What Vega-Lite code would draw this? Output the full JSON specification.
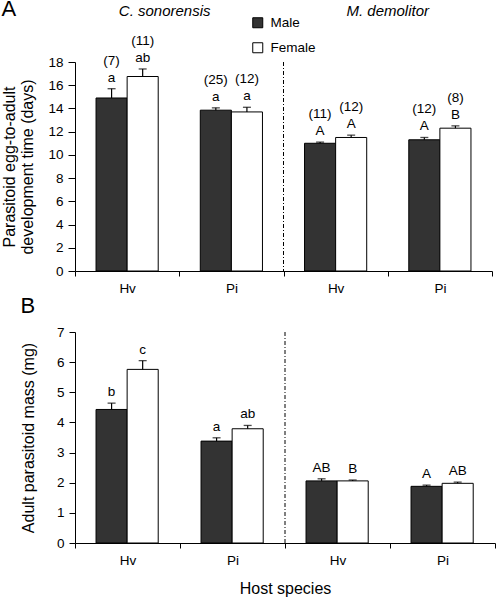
{
  "$schema": "https://vega.github.io/schema/vega-lite/v6.json",
  "padding": {"left": 1, "top": -3, "right": 0, "bottom": 0},
  "config": {
    "view": {"stroke": null},
    "font": "Liberation Sans",
    "axis": {"grid": false, "domainColor": "black", "tickColor": "black", "labelColor": "black", "titleColor": "black", "labelFont": "Liberation Sans", "titleFont": "Liberation Sans", "labelFontSize": 13.5, "titleFontSize": 16, "titleFontWeight": "normal", "labelOverlap": false},
    "title": {"font": "Liberation Sans", "fontWeight": "normal", "fontSize": 22, "color": "black"},
    "legend": {"labelFont": "Liberation Sans"}
  },
  "datasets": {
    "dev": [
      {"grp": "Cs Hv", "sex": "Male", "mean": 14.9, "err": 15.7, "n": "(7)", "letter": "a"},
      {"grp": "Cs Hv", "sex": "Female", "mean": 16.75, "err": 17.4, "n": "(11)", "letter": "ab"},
      {"grp": "Cs Pi", "sex": "Male", "mean": 13.85, "err": 14.05, "n": "(25)", "letter": "a"},
      {"grp": "Cs Pi", "sex": "Female", "mean": 13.7, "err": 14.1, "n": "(12)", "letter": "a"},
      {"grp": "Md Hv", "sex": "Male", "mean": 11.0, "err": 11.1, "n": "(11)", "letter": "A"},
      {"grp": "Md Hv", "sex": "Female", "mean": 11.5, "err": 11.7, "n": "(12)", "letter": "A"},
      {"grp": "Md Pi", "sex": "Male", "mean": 11.3, "err": 11.5, "n": "(12)", "letter": "A"},
      {"grp": "Md Pi", "sex": "Female", "mean": 12.3, "err": 12.5, "n": "(8)", "letter": "B"}
    ],
    "mass": [
      {"grp": "Cs Hv", "sex": "Male", "mean": 4.43, "err": 4.64, "letter": "b"},
      {"grp": "Cs Hv", "sex": "Female", "mean": 5.76, "err": 6.05, "letter": "c"},
      {"grp": "Cs Pi", "sex": "Male", "mean": 3.38, "err": 3.49, "letter": "a"},
      {"grp": "Cs Pi", "sex": "Female", "mean": 3.79, "err": 3.9, "letter": "ab"},
      {"grp": "Md Hv", "sex": "Male", "mean": 2.06, "err": 2.13, "letter": "AB"},
      {"grp": "Md Hv", "sex": "Female", "mean": 2.06, "err": 2.09, "letter": "B"},
      {"grp": "Md Pi", "sex": "Male", "mean": 1.88, "err": 1.92, "letter": "A"},
      {"grp": "Md Pi", "sex": "Female", "mean": 1.98, "err": 2.02, "letter": "AB"}
    ]
  },
  "resolve": {"scale": {"color": "independent"}},
  "spacing": 0,
  "vconcat": [
    {
      "width": 417,
      "height": 209,
      "title": {"text": "A", "anchor": "start", "frame": "bounds", "offset": -17},
      "encoding": {
        "x": {"field": "grp", "type": "nominal", "sort": ["Cs Hv", "Cs Pi", "Md Hv", "Md Pi"],
              "scale": {"paddingInner": 0, "paddingOuter": 0},
              "axis": {"title": null, "labelAngle": 0, "tickBand": "extent", "tickSize": 5, "labelPadding": 5, "labelExpr": "slice(datum.label, 3)"}},
        "xOffset": {"field": "sex", "type": "nominal", "sort": ["Male", "Female"], "scale": {"paddingInner": 0, "paddingOuter": 0.677}}
      },
      "layer": [
        {
          "data": {"name": "dev"},
          "mark": {"type": "bar", "stroke": "black", "strokeWidth": 1},
          "encoding": {
            "y": {"field": "mean", "type": "quantitative", "scale": {"domain": [0, 18], "nice": false},
                  "axis": {"values": [0, 2, 4, 6, 8, 10, 12, 14, 16, 18], "title": ["Parasitoid egg-to-adult", "development time (days)"], "titleLineHeight": 18.5, "titlePadding": 12, "tickSize": 7, "labelPadding": 5}},
            "color": {"field": "sex", "type": "nominal", "sort": ["Male", "Female"],
                      "scale": {"domain": ["Male", "Female"], "range": ["#333333", "#ffffff"]},
                      "legend": {"title": null, "orient": "none", "legendX": 176, "legendY": -46, "symbolType": "square", "symbolSize": 100, "symbolStrokeColor": "black", "symbolStrokeWidth": 1, "labelFontSize": 13.5, "labelOffset": 6, "rowPadding": 10, "padding": 0}}
          }
        },
        {
          "data": {"name": "dev"},
          "mark": {"type": "rule", "color": "black", "strokeWidth": 1.2},
          "encoding": {"y": {"field": "mean", "type": "quantitative",
                  "axis": {"values": [0, 2, 4, 6, 8, 10, 12, 14, 16, 18], "title": ["Parasitoid egg-to-adult", "development time (days)"], "titleLineHeight": 18.5, "titlePadding": 12, "tickSize": 7, "labelPadding": 5}}, "y2": {"field": "err"}}
        },
        {
          "data": {"name": "dev"},
          "mark": {"type": "tick", "color": "black", "size": 8, "thickness": 1.3},
          "encoding": {"y": {"field": "err", "type": "quantitative",
                  "axis": {"values": [0, 2, 4, 6, 8, 10, 12, 14, 16, 18], "title": ["Parasitoid egg-to-adult", "development time (days)"], "titleLineHeight": 18.5, "titlePadding": 12, "tickSize": 7, "labelPadding": 5}}}
        },
        {
          "data": {"name": "dev"},
          "mark": {"type": "text", "fontSize": 13.5, "baseline": "alphabetic", "dy": -7, "color": "black"},
          "encoding": {"y": {"field": "err", "type": "quantitative",
                  "axis": {"values": [0, 2, 4, 6, 8, 10, 12, 14, 16, 18], "title": ["Parasitoid egg-to-adult", "development time (days)"], "titleLineHeight": 18.5, "titlePadding": 12, "tickSize": 7, "labelPadding": 5}}, "text": {"field": "letter"}}
        },
        {
          "data": {"name": "dev"},
          "mark": {"type": "text", "fontSize": 13.5, "baseline": "alphabetic", "dy": -24, "color": "black"},
          "encoding": {"y": {"field": "err", "type": "quantitative",
                  "axis": {"values": [0, 2, 4, 6, 8, 10, 12, 14, 16, 18], "title": ["Parasitoid egg-to-adult", "development time (days)"], "titleLineHeight": 18.5, "titlePadding": 12, "tickSize": 7, "labelPadding": 5}}, "text": {"field": "n"}}
        },
        {
          "data": {"values": [{"grp": "Md Hv"}]},
          "mark": {"type": "rule", "color": "black", "strokeWidth": 1, "strokeDash": [4, 2, 1, 2]},
          "encoding": {"x": {"field": "grp", "type": "nominal", "bandPosition": 0}, "xOffset": null}
        },
        {
          "data": {"values": [{"grp": "Cs Hv", "sp": "C. sonorensis"}]},
          "mark": {"type": "text", "fontSize": 15, "fontStyle": "italic", "baseline": "middle", "color": "black"},
          "encoding": {"x": {"field": "grp", "type": "nominal", "bandPosition": 0.86}, "xOffset": null, "y": {"datum": 22.4, "type": "quantitative",
                  "axis": {"values": [0, 2, 4, 6, 8, 10, 12, 14, 16, 18], "title": ["Parasitoid egg-to-adult", "development time (days)"], "titleLineHeight": 18.5, "titlePadding": 12, "tickSize": 7, "labelPadding": 5}}, "text": {"field": "sp"}}
        },
        {
          "data": {"values": [{"grp": "Md Hv", "sp": "M. demolitor"}]},
          "mark": {"type": "text", "fontSize": 15, "fontStyle": "italic", "baseline": "middle", "color": "black"},
          "encoding": {"x": {"field": "grp", "type": "nominal", "bandPosition": 1}, "xOffset": null, "y": {"datum": 22.4, "type": "quantitative",
                  "axis": {"values": [0, 2, 4, 6, 8, 10, 12, 14, 16, 18], "title": ["Parasitoid egg-to-adult", "development time (days)"], "titleLineHeight": 18.5, "titlePadding": 12, "tickSize": 7, "labelPadding": 5}}, "text": {"field": "sp"}}
        }
      ]
    },
    {
      "width": 420,
      "height": 211,
      "title": {"text": "B", "anchor": "start", "frame": "bounds", "offset": 7},
      "encoding": {
        "x": {"field": "grp", "type": "nominal", "sort": ["Cs Hv", "Cs Pi", "Md Hv", "Md Pi"],
              "scale": {"paddingInner": 0, "paddingOuter": 0},
              "axis": {"title": "Host species", "titlePadding": 14, "labelAngle": 0, "tickBand": "extent", "tickSize": 5, "labelPadding": 5, "labelExpr": "slice(datum.label, 3)"}},
        "xOffset": {"field": "sex", "type": "nominal", "sort": ["Male", "Female"], "scale": {"paddingInner": 0, "paddingOuter": 0.72}}
      },
      "layer": [
        {
          "data": {"name": "mass"},
          "mark": {"type": "bar", "stroke": "black", "strokeWidth": 1},
          "encoding": {
            "y": {"field": "mean", "type": "quantitative", "scale": {"domain": [0, 7], "nice": false},
                  "axis": {"values": [0, 1, 2, 3, 4, 5, 6, 7], "title": "Adult parasitoid mass (mg)", "titlePadding": 20, "tickSize": 6, "labelPadding": 5}},
            "color": {"field": "sex", "type": "nominal", "sort": ["Male", "Female"],
                      "scale": {"domain": ["Male", "Female"], "range": ["#333333", "#ffffff"]}, "legend": null}
          }
        },
        {
          "data": {"name": "mass"},
          "mark": {"type": "rule", "color": "black", "strokeWidth": 1.2},
          "encoding": {"y": {"field": "mean", "type": "quantitative",
                  "axis": {"values": [0, 1, 2, 3, 4, 5, 6, 7], "title": "Adult parasitoid mass (mg)", "titlePadding": 20, "tickSize": 6, "labelPadding": 5}}, "y2": {"field": "err"}}
        },
        {
          "data": {"name": "mass"},
          "mark": {"type": "tick", "color": "black", "size": 8, "thickness": 1.3},
          "encoding": {"y": {"field": "err", "type": "quantitative",
                  "axis": {"values": [0, 1, 2, 3, 4, 5, 6, 7], "title": "Adult parasitoid mass (mg)", "titlePadding": 20, "tickSize": 6, "labelPadding": 5}}}
        },
        {
          "data": {"name": "mass"},
          "mark": {"type": "text", "fontSize": 13.5, "baseline": "alphabetic", "dy": -7, "color": "black"},
          "encoding": {"y": {"field": "err", "type": "quantitative",
                  "axis": {"values": [0, 1, 2, 3, 4, 5, 6, 7], "title": "Adult parasitoid mass (mg)", "titlePadding": 20, "tickSize": 6, "labelPadding": 5}}, "text": {"field": "letter"}}
        },
        {
          "data": {"values": [{"grp": "Md Hv"}]},
          "mark": {"type": "rule", "color": "black", "strokeWidth": 1, "strokeDash": [4, 2, 1, 2]},
          "encoding": {"x": {"field": "grp", "type": "nominal", "bandPosition": 0}, "xOffset": null}
        }
      ]
    }
  ]
}
